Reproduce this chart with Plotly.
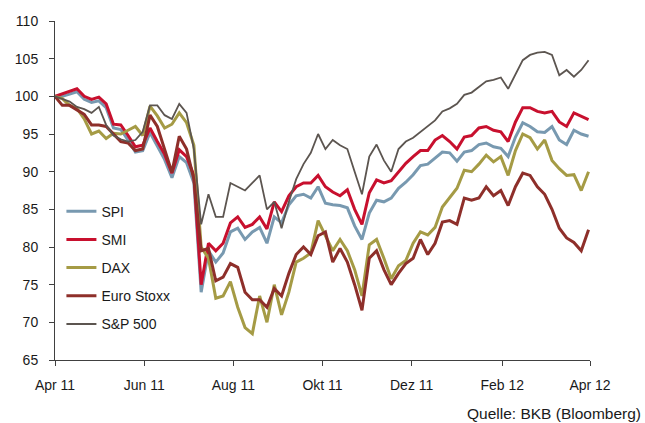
import pandas as pd
import plotly.graph_objects as go

# 5-day sampling from 1 Apr 2011 to 31 Mar 2012 (74 points)
dates = pd.date_range("2011-04-01", periods=74, freq="5D")

spi = [100, 100.0, 100.3, 100.6, 99.6, 99.2, 99.4, 98.5, 95.8, 95.6,
       94.2, 92.6, 92.8, 95.2, 93.4, 91.6, 89.2, 92.0, 91.2, 88.5,
       74.0, 79.5, 78.0, 79.2, 82.0, 82.5, 81.0, 82.0, 82.6, 80.5,
       84.0, 83.2, 85.6, 86.8, 87.0, 86.5, 88.0, 85.8, 85.6, 85.5,
       85.2, 82.8, 81.0, 84.5, 86.2, 86.0, 86.5, 87.8, 88.6, 89.6,
       90.8, 91.0, 91.8, 92.6, 92.5, 91.4, 92.6, 92.8, 93.6, 93.8,
       93.3, 93.1, 92.0, 94.6, 96.5, 96.0, 95.3, 95.2, 96.0, 94.2,
       93.6, 95.5, 95.0, 94.7]

smi = [100, 100.3, 100.7, 101.0, 100.0, 99.6, 99.9, 99.0, 96.3, 96.2,
       94.8, 93.3, 93.5, 95.8, 94.0, 92.3, 89.8, 92.9, 92.0, 89.5,
       75.0, 80.5, 79.5, 80.5, 83.2, 84.0, 82.6, 83.0, 84.0, 82.4,
       86.0, 84.7, 86.8, 88.0, 88.5, 88.5, 89.5, 88.0, 87.3, 86.8,
       87.6, 85.0, 83.0, 87.2, 88.9, 88.5, 88.8, 90.0, 91.1, 92.0,
       92.8, 92.8, 94.2, 94.8, 94.0, 93.0, 94.6, 94.8, 95.8, 96.0,
       95.5, 95.3, 94.0, 96.6, 98.5, 98.5, 98.0, 97.8, 98.0, 96.6,
       96.0, 97.8, 97.3, 96.9]

dax = [100, 99.7, 98.8, 98.4, 97.0, 95.0, 95.4, 94.4, 95.1, 95.0,
       95.5, 96.0, 94.8, 98.7, 97.4, 95.8, 96.3, 97.8, 96.5, 93.5,
       80.0, 78.5, 73.2, 73.5, 75.4, 72.0, 69.3, 68.5, 73.5, 70.0,
       75.0, 71.0, 74.0, 78.0, 78.5, 79.2, 83.5, 81.5, 79.5, 81.0,
       79.5, 77.0, 73.5, 80.3, 81.0, 78.5, 75.8, 77.5, 78.2, 80.5,
       82.0, 81.6, 82.6, 85.3, 86.5, 87.8, 90.2, 90.0, 91.0, 92.2,
       91.3, 92.0, 89.5, 92.8, 95.0, 94.5, 93.0, 94.2, 91.5, 90.4,
       89.5, 89.6, 87.5, 90.0]

euro_stoxx = [100, 98.8, 98.8, 98.2, 97.6, 96.2, 96.2, 96.0, 95.0, 94.0,
              93.8, 92.8, 93.0, 97.5, 96.0, 93.0, 89.9, 94.7, 93.0, 89.0,
              79.5, 79.8, 75.5, 76.0, 77.8, 77.3, 74.0, 73.0, 73.0, 72.0,
              74.5, 73.5, 76.5, 79.0, 80.0, 79.0, 81.5, 82.0, 78.0, 79.8,
              78.0, 75.0, 71.6, 78.5, 79.5, 77.0, 75.0, 76.5, 77.8, 78.5,
              81.0, 79.0, 80.5, 83.3, 83.5, 83.0, 86.5, 86.2, 86.5, 88.0,
              86.8, 87.5, 85.5, 88.0, 89.8, 89.5, 88.0, 87.0, 85.0, 82.5,
              81.2, 80.6, 79.5, 82.3]

sp500 = [100, 99.7, 99.3, 98.6, 98.3, 97.8, 98.6, 96.2, 94.8, 94.3,
         94.0, 94.2, 95.3, 98.8, 98.8, 97.5, 97.0, 99.0, 97.8, 93.0,
         83.0, 87.0, 84.0, 84.0, 88.5, 88.0, 87.5, 88.5, 89.5, 85.0,
         86.0, 82.5, 86.0, 89.0, 91.0, 92.5, 95.0, 93.0, 94.2, 93.5,
         93.0, 90.0, 87.0, 92.0, 93.6, 91.5, 90.0, 93.0, 94.0, 94.5,
         95.3, 96.0, 96.8, 98.0, 98.4, 99.0, 100.2, 100.5, 101.2, 102.0,
         102.2, 102.5, 101.0, 103.0, 104.8, 105.5, 105.8, 105.9, 105.5, 102.8,
         103.5, 102.6, 103.5, 104.8]

series_names = ["SPI", "SMI", "DAX", "Euro Stoxx", "S&P 500"]
series_values = [spi, smi, dax, euro_stoxx, sp500]
series_colors = ["#7899B0", "#C8102E", "#A59B45", "#8E2F2A", "#5C5550"]
series_widths = [3, 3, 3, 3, 1.8]

tick_dates = ["2011-04-01", "2011-06-01", "2011-08-01", "2011-10-01",
              "2011-12-01", "2012-02-01", "2012-04-01"]
tick_labels = ["Apr 11", "Jun 11", "Aug 11", "Okt 11", "Dez 11", "Feb 12", "Apr 12"]
y_ticks = [65, 70, 75, 80, 85, 90, 95, 100, 105, 110]

FONT = "Arial, Liberation Sans, sans-serif"

fig = go.Figure()
for name, vals, col, w in zip(series_names, series_values, series_colors, series_widths):
    fig.add_trace(go.Scatter(
        x=dates, y=vals, mode="lines", name=name, legendgroup=name,
        line=dict(color=col, width=w),
    ))

fig.update_layout(
    width=645, height=423,
    margin=dict(l=55, r=55, t=21, b=63),
    paper_bgcolor="white", plot_bgcolor="white",
    font=dict(family=FONT, size=14, color="#1a1a1a"),
    showlegend=True,
    legend=dict(
        x=0.012, y=0.485, xanchor="left", yanchor="top",
        bgcolor="rgba(0,0,0,0)", borderwidth=0,
        tracegroupgap=7, itemwidth=30,
        font=dict(family=FONT, size=14, color="#1a1a1a"),
    ),
    xaxis=dict(
        range=["2011-04-01", "2012-04-01"],
        tickvals=tick_dates, ticktext=tick_labels,
        showgrid=False, zeroline=False,
        showline=True, linecolor="#404040", linewidth=1,
        ticks="outside", ticklen=5, tickcolor="#404040", tickwidth=1,
        ticklabelstandoff=7,
    ),
    yaxis=dict(
        range=[65, 110], tickvals=y_ticks,
        showgrid=False, zeroline=False,
        showline=True, linecolor="#404040", linewidth=1,
        ticks="outside", ticklen=5, tickcolor="#404040", tickwidth=1,
        ticklabelstandoff=8,
    ),
    annotations=[dict(
        text="Quelle: BKB (Bloomberg)", xref="paper", yref="paper",
        x=1.099, y=-0.158, xanchor="right", yanchor="middle",
        showarrow=False, font=dict(family=FONT, size=15.5, color="#1a1a1a"),
    )],
)

fig.write_html("out.html")
